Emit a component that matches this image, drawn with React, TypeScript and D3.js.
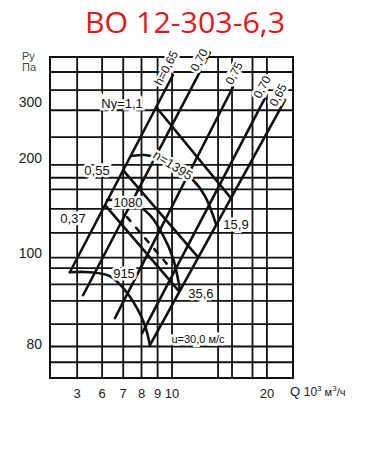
import React, { useEffect, useRef } from "react";
import * as d3 from "d3";

// Axis ticks (Q in 10^3 m3/h, Pv in Pa)
const qTicks = [5, 6, 7, 8, 9, 10, 20];
const qTickLabels = ["3", "6", "7", "8", "9", "10", "20"];
const pTicks = [300, 200, 100, 52];
const pTickLabels = ["300", "200", "100", "80"];

// Grid lines
const qGrid = [5, 6, 7, 8, 9, 10, 14, 15.5, 18, 20];
const pGrid = [372, 326, 282, 232, 190, 173, 159, 138, 116, 97, 90, 80, 71, 60, 51, 45.5];

// Efficiency lines: lower and upper ends [Q, P]
const etaNames = ["h=0,65", "0,70", "0,75", "0,70", "0,65"];
const etaLow: [number, number][] = [[4.74, 87.3], [5.22, 73.9], [6.59, 62.6], [8.03, 56.1], [8.51, 51.5]];
const etaHigh: [number, number][] = [[10.07, 364], [13.19, 428], [15.61, 333.6], [19.72, 308], [22.83, 303.7]];
const etaLabelAt: [number, number][] = [[9.57, 383], [12.18, 406], [15.72, 369], [19.29, 334], [21.68, 315]];

// Fan curves for each speed, rpm
const speeds = ["n=1395", "1080", "915"];
const curve1395: [number, number][] = [[7.41, 202.4], [8.2, 203.9], [9.03, 199.5], [10.22, 186.9], [11.57, 171.4], [12.72, 151.5], [13.79, 123.7]];
const curve1080: [number, number][] = [[6.22, 147.2], [6.84, 147.2], [7.63, 143.0], [8.51, 132.0], [9.36, 114.2], [10.07, 96.7], [10.6, 76.7]];
const curve915: [number, number][] = [[4.74, 87.3], [5.49, 87.3], [6.35, 84.9], [7.09, 76.7], [7.74, 67.3], [8.2, 59.5], [8.51, 51.5]];
const speedLabelAt: [number, number][] = [[10.07, 189.6], [7.25, 145.1], [7.04, 86.7]];

// Shaft power lines, kW
const powerNames = ["Ny=1,1", "0,55", "0,37"];
const powerLines: [number, number][][] = [
  [[8.9, 288.7], [15.38, 149.3]],
  [[6.99, 182.9], [12.09, 97.4]],
  [[6.13, 141.9], [10.52, 76.1]],
];
const powerLabelAt: [number, number][] = [[6.94, 297], [5.78, 183], [4.85, 129]];
const dashedLine: [number, number][] = [[7.2, 130.1], [9.71, 91.9]];

// Peripheral speed labels at curve ends
const uNames = ["15,9", "35,6", "u=30,0 м/с"];
const uLabelAt: [number, number][] = [[15.96, 123.7], [12.35, 75.0], [12.09, 53.8]];

export default function App() {
  const ref = useRef<SVGSVGElement>(null);

  useEffect(() => {
    const svg = d3.select(ref.current);
    svg.selectAll("*").remove();

    const x = d3.scaleLog().domain([4.1, 24.2]).range([50, 293]);
    const y = d3.scaleLog().domain([40.6, 414.6]).range([378, 57]);
    const font = "'Liberation Sans', Arial, sans-serif";
    const ink = "#111";

    svg.append("rect").attr("width", 377).attr("height", 450).attr("fill", "#fff");

    // title
    svg.append("text")
      .attr("x", 185).attr("y", 33)
      .attr("text-anchor", "middle")
      .attr("font-family", "'Open Sans', sans-serif")
      .attr("font-size", 30)
      .attr("fill", "#e3161d")
      .attr("textLength", 200)
      .attr("lengthAdjust", "spacingAndGlyphs")
      .text("ВО 12-303-6,3");

    const [x0, x1] = x.range();
    const [y0, y1] = y.range();

    const grid = svg.append("g").attr("stroke", ink).attr("stroke-width", 1.8);
    qGrid.forEach((q) => {
      grid.append("line").attr("x1", x(q)).attr("x2", x(q)).attr("y1", y1).attr("y2", y0);
    });
    pGrid.forEach((p) => {
      grid.append("line").attr("x1", x0).attr("x2", x1).attr("y1", y(p)).attr("y2", y(p));
    });
    svg.append("rect")
      .attr("x", x0).attr("y", y1).attr("width", x1 - x0).attr("height", y0 - y1)
      .attr("fill", "none").attr("stroke", ink).attr("stroke-width", 2);

    const line = d3.line<[number, number]>().x((d) => x(d[0])).y((d) => y(d[1]));
    const curve = d3.line<[number, number]>().x((d) => x(d[0])).y((d) => y(d[1])).curve(d3.curveCatmullRom);

    const marks = svg.append("g").attr("fill", "none").attr("stroke", ink).attr("stroke-width", 2.6).attr("stroke-linecap", "round");

    // efficiency lines
    etaLow.forEach((lo, i) => {
      marks.append("path").attr("d", line([lo, etaHigh[i]]));
    });
    // fan curves
    [curve1395, curve1080, curve915].forEach((c) => {
      marks.append("path").attr("d", curve(c));
    });
    // power lines
    powerLines.forEach((pl) => {
      marks.append("path").attr("d", line(pl));
    });
    marks.append("path").attr("d", line(dashedLine)).attr("stroke-dasharray", "5 9");

    const label = (txt: string, at: [number, number], size: number, rotate = 0) => {
      svg.append("text")
        .attr("transform", `translate(${x(at[0])},${y(at[1])}) rotate(${rotate})`)
        .attr("text-anchor", "middle")
        .attr("dy", "0.35em")
        .attr("font-family", font)
        .attr("font-size", size)
        .attr("fill", ink)
        .attr("stroke", "#fff")
        .attr("stroke-width", 5)
        .attr("paint-order", "stroke")
        .text(txt);
    };

    etaNames.forEach((n, i) => label(n, etaLabelAt[i], 12, -62));
    speeds.forEach((n, i) => label(n, speedLabelAt[i], 13, i === 0 ? 32 : 0));
    powerNames.forEach((n, i) => label(n, powerLabelAt[i], 13));
    uNames.forEach((n, i) => label(n, uLabelAt[i], i === 2 ? 11 : 13));

    // axis ticks
    qTicks.forEach((q, i) => {
      svg.append("text")
        .attr("x", x(q)).attr("y", 398)
        .attr("text-anchor", "middle")
        .attr("font-family", font).attr("font-size", 13).attr("fill", "#222")
        .text(qTickLabels[i]);
    });
    pTicks.forEach((p, i) => {
      svg.append("text")
        .attr("x", 42).attr("y", y(p)).attr("dy", "0.35em")
        .attr("text-anchor", "end")
        .attr("font-family", font).attr("font-size", 14).attr("fill", "#222")
        .text(pTickLabels[i]);
    });

    // axis titles
    svg.append("text").attr("x", 22).attr("y", 60)
      .attr("font-family", font).attr("font-size", 11).attr("fill", "#444").text("Ру");
    svg.append("text").attr("x", 22).attr("y", 71)
      .attr("font-family", font).attr("font-size", 11).attr("fill", "#444").text("Па");
    const qt = svg.append("text").attr("x", 290).attr("y", 396)
      .attr("font-family", font).attr("font-size", 13).attr("fill", "#222");
    qt.append("tspan").text("Q ");
    qt.append("tspan").attr("font-size", 12).text("10");
    qt.append("tspan").attr("font-size", 8).attr("dy", -5).text("3");
    qt.append("tspan").attr("font-size", 11).attr("dy", 5).text(" м");
    qt.append("tspan").attr("font-size", 8).attr("dy", -5).text("3");
    qt.append("tspan").attr("font-size", 11).attr("dy", 5).text("/ч");
  }, []);

  return (
    <svg
      ref={ref}
      width={377}
      height={450}
      style={{ position: "absolute", left: 0, top: 0, display: "block" }}
    />
  );
}
